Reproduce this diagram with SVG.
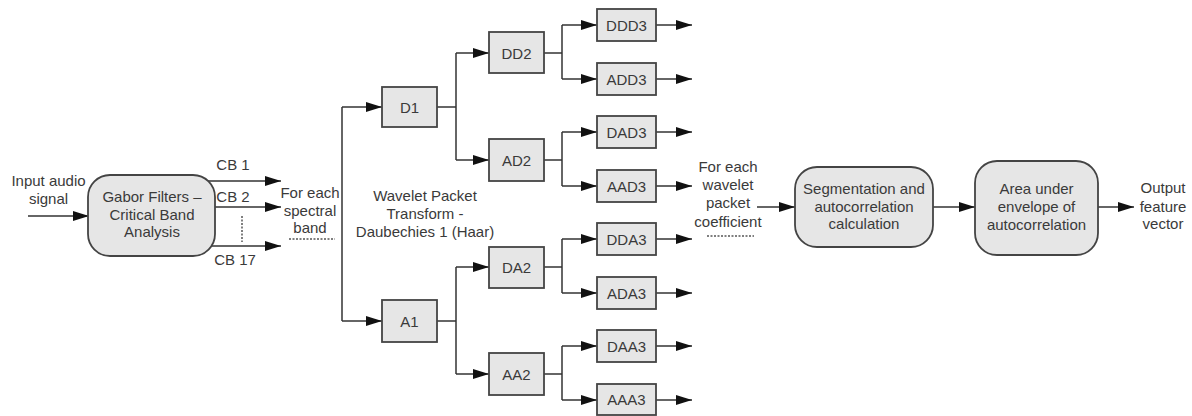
<svg xmlns="http://www.w3.org/2000/svg" width="1192" height="416" viewBox="0 0 1192 416">
<defs>
<marker id="ah" markerUnits="userSpaceOnUse" markerWidth="16" markerHeight="10" refX="16" refY="5" orient="auto">
<path d="M0,0 L16,5 L0,10 z" fill="#111"/>
</marker>
<style>
.t{font-family:"Liberation Sans",Arial,sans-serif;font-size:15px;fill:#3a3a3a;text-anchor:middle}
.ln{fill:none;stroke:#333;stroke-width:1.5}
.ar{fill:none;stroke:#333;stroke-width:1.5;marker-end:url(#ah)}
.dot{fill:none;stroke:#555;stroke-width:1.5;stroke-dasharray:2 1.5}
.box{fill:#e6e6e6;stroke:#444;stroke-width:1.8}
.rbox{fill:#e6e6e6;stroke:#444;stroke-width:1.8}
</style>
</defs>
<rect width="1192" height="416" fill="#fff"/>
<g id="connectors">
<line class="ar" x1="28" y1="216" x2="89" y2="216"/>
<line class="ar" x1="200" y1="181" x2="281" y2="181"/>
<line class="ar" x1="200" y1="207" x2="281" y2="207"/>
<line class="ar" x1="200" y1="246" x2="281" y2="246"/>
<line class="dot" x1="242" y1="216" x2="242" y2="242"/>
<line class="dot" x1="289" y1="239" x2="335" y2="239"/>
<polyline class="ar" points="342,107 342,107 382,107"/>
<polyline class="ln" points="342,107 342,321"/>
<polyline class="ar" points="342,321 382,321"/>
<polyline class="ln" points="437,107 456,107"/>
<polyline class="ar" points="456,53 489,53"/>
<polyline class="ar" points="456,160 489,160"/>
<polyline class="ln" points="456,53 456,160"/>
<polyline class="ln" points="437,321 456,321"/>
<polyline class="ln" points="456,267 456,374"/>
<polyline class="ar" points="456,267 489,267"/>
<polyline class="ar" points="456,374 489,374"/>
<polyline class="ln" points="544,53 562,53"/>
<polyline class="ln" points="562,25 562,79"/>
<polyline class="ar" points="562,25 597,25"/>
<polyline class="ar" points="562,79 597,79"/>
<polyline class="ln" points="544,160 562,160"/>
<polyline class="ln" points="562,132 562,186"/>
<polyline class="ar" points="562,132 597,132"/>
<polyline class="ar" points="562,186 597,186"/>
<polyline class="ln" points="544,267 562,267"/>
<polyline class="ln" points="562,239 562,293"/>
<polyline class="ar" points="562,239 597,239"/>
<polyline class="ar" points="562,293 597,293"/>
<polyline class="ln" points="544,374 562,374"/>
<polyline class="ln" points="562,346 562,400"/>
<polyline class="ar" points="562,346 597,346"/>
<polyline class="ar" points="562,400 597,400"/>
<line class="ar" x1="656" y1="25" x2="692" y2="25"/>
<line class="ar" x1="656" y1="79" x2="692" y2="79"/>
<line class="ar" x1="656" y1="132" x2="692" y2="132"/>
<line class="ar" x1="656" y1="186" x2="692" y2="186"/>
<line class="ar" x1="656" y1="239" x2="692" y2="239"/>
<line class="ar" x1="656" y1="293" x2="692" y2="293"/>
<line class="ar" x1="656" y1="346" x2="692" y2="346"/>
<line class="ar" x1="656" y1="400" x2="692" y2="400"/>
<line class="dot" x1="707" y1="236" x2="754" y2="236"/>
<line class="ar" x1="757" y1="207" x2="795" y2="207"/>
<line class="ar" x1="933" y1="207" x2="975" y2="207"/>
<line class="ar" x1="1098" y1="207" x2="1134" y2="207"/>
</g>
<g id="input-label">
<text class="t" x="48.5" y="186">Input audio</text>
<text class="t" x="48.5" y="204">signal</text>
</g>
<g id="gabor">
<rect class="rbox" x="88" y="175" width="127" height="81" rx="22"/>
<text class="t" x="152" y="202">Gabor Filters –</text>
<text class="t" x="152" y="219.5">Critical Band</text>
<text class="t" x="152" y="237">Analysis</text>
</g>
<g id="cb-labels">
<text class="t" x="233" y="170">CB 1</text>
<text class="t" x="233" y="202">CB 2</text>
<text class="t" x="235" y="264.5">CB 17</text>
</g>
<g id="spectral-label">
<text class="t" x="310" y="198">For each</text>
<text class="t" x="310" y="216">spectral</text>
<text class="t" x="310" y="233">band</text>
</g>
<g id="wpt-label">
<text class="t" x="425" y="201">Wavelet Packet</text>
<text class="t" x="425" y="219">Transform -</text>
<text class="t" x="425" y="237">Daubechies 1 (Haar)</text>
</g>
<g id="D1"><rect class="box" x="382" y="87" width="55" height="40"/><text class="t" x="409.5" y="112.5">D1</text></g>
<g id="A1"><rect class="box" x="382" y="300" width="55" height="42"/><text class="t" x="409.5" y="326.5">A1</text></g>
<g id="DD2"><rect class="box" x="489" y="32" width="55" height="41"/><text class="t" x="516.5" y="58.5">DD2</text></g>
<g id="AD2"><rect class="box" x="489" y="139" width="55" height="42"/><text class="t" x="516.5" y="165.5">AD2</text></g>
<g id="DA2"><rect class="box" x="489" y="247" width="55" height="41"/><text class="t" x="516.5" y="272.5">DA2</text></g>
<g id="AA2"><rect class="box" x="489" y="353" width="55" height="42"/><text class="t" x="516.5" y="379.5">AA2</text></g>
<g id="DDD3"><rect class="box" x="597" y="9" width="59" height="32"/><text class="t" x="626.5" y="30.5">DDD3</text></g>
<g id="ADD3"><rect class="box" x="597" y="63" width="59" height="32"/><text class="t" x="626.5" y="84.5">ADD3</text></g>
<g id="DAD3"><rect class="box" x="597" y="116" width="59" height="32"/><text class="t" x="626.5" y="137.5">DAD3</text></g>
<g id="AAD3"><rect class="box" x="597" y="170" width="59" height="32"/><text class="t" x="626.5" y="191.5">AAD3</text></g>
<g id="DDA3"><rect class="box" x="597" y="223" width="59" height="32"/><text class="t" x="626.5" y="244.5">DDA3</text></g>
<g id="ADA3"><rect class="box" x="597" y="277" width="59" height="32"/><text class="t" x="626.5" y="298.5">ADA3</text></g>
<g id="DAA3"><rect class="box" x="597" y="330" width="59" height="32"/><text class="t" x="626.5" y="351.5">DAA3</text></g>
<g id="AAA3"><rect class="box" x="597" y="384" width="59" height="31"/><text class="t" x="626.5" y="404.5">AAA3</text></g>
<g id="coef-label">
<text class="t" x="728" y="172">For each</text>
<text class="t" x="728" y="190">wavelet</text>
<text class="t" x="728" y="208">packet</text>
<text class="t" x="728" y="227">coefficient</text>
</g>
<g id="segmentation">
<rect class="rbox" x="795" y="167" width="138" height="80" rx="22"/>
<text class="t" x="864" y="193.5">Segmentation and</text>
<text class="t" x="864" y="211.5">autocorrelation</text>
<text class="t" x="864" y="229">calculation</text>
</g>
<g id="area">
<rect class="rbox" x="975" y="161" width="123" height="94" rx="22"/>
<text class="t" x="1036.5" y="194">Area under</text>
<text class="t" x="1036.5" y="212">envelope of</text>
<text class="t" x="1036.5" y="230">autocorrelation</text>
</g>
<g id="output-label">
<text class="t" x="1163" y="193">Output</text>
<text class="t" x="1163" y="211.5">feature</text>
<text class="t" x="1163" y="229">vector</text>
</g>
</svg>
